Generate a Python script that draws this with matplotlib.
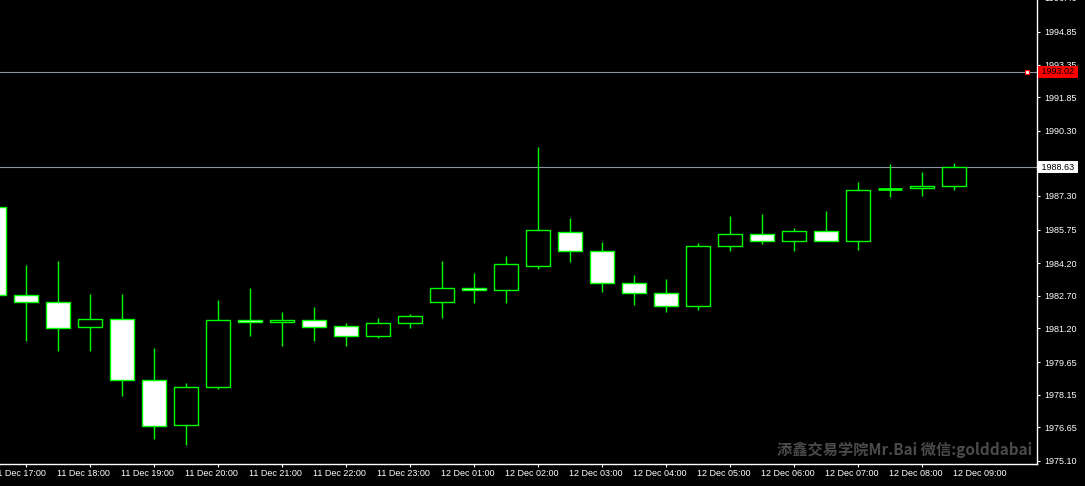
import matplotlib.pyplot as plt
import matplotlib.transforms as mtransforms

# 30-minute XAUUSD candles
opens  = [1986.81, 1982.74, 1982.41, 1981.26, 1981.63, 1978.82, 1976.75, 1978.50,
          1981.58, 1981.49, 1981.58, 1981.31, 1980.85, 1981.45, 1982.41, 1983.06,
          1982.97, 1984.07, 1985.64, 1984.76, 1983.29, 1982.83, 1982.23, 1984.99,
          1985.55, 1985.22, 1985.69, 1985.22, 1987.60, 1987.67, 1987.76]
highs  = [1987.10, 1984.13, 1984.32, 1982.80, 1982.80, 1980.31, 1978.69, 1982.52,
          1983.07, 1981.97, 1982.20, 1981.45, 1981.68, 1981.86, 1984.32, 1983.76,
          1984.55, 1989.57, 1986.30, 1985.19, 1983.67, 1983.49, 1985.15, 1986.39,
          1986.48, 1985.84, 1986.62, 1987.96, 1988.79, 1988.42, 1988.83]
lows   = [1982.60, 1980.64, 1980.14, 1980.14, 1978.11, 1976.10, 1975.84, 1978.42,
          1980.87, 1980.41, 1980.60, 1980.37, 1980.74, 1981.24, 1981.70, 1982.39,
          1982.35, 1983.93, 1984.24, 1982.86, 1982.26, 1981.98, 1982.07, 1984.75,
          1985.11, 1984.75, 1985.22, 1984.79, 1987.23, 1987.28, 1987.56]
closes = [1982.75, 1982.41, 1981.22, 1981.63, 1978.82, 1976.70, 1978.50, 1981.58,
          1981.49, 1981.60, 1981.26, 1980.85, 1981.45, 1981.77, 1983.06, 1982.97,
          1984.16, 1985.73, 1984.76, 1983.29, 1982.83, 1982.23, 1984.99, 1985.55,
          1985.22, 1985.69, 1985.22, 1987.57, 1987.60, 1987.76, 1988.63]

time_labels = ['11 Dec 17:00', '11 Dec 18:00', '11 Dec 19:00', '11 Dec 20:00',
               '11 Dec 21:00', '11 Dec 22:00', '11 Dec 23:00', '12 Dec 01:00',
               '12 Dec 02:00', '12 Dec 03:00', '12 Dec 04:00', '12 Dec 05:00',
               '12 Dec 06:00', '12 Dec 07:00', '12 Dec 08:00', '12 Dec 09:00']
price_ticks = [1994.85, 1993.35, 1991.85, 1990.30, 1988.80, 1987.30, 1985.75,
               1984.20, 1982.70, 1981.20, 1979.65, 1978.15, 1976.65, 1975.10]
top_tick = 1996.40
ask_price = 1993.02
bid_price = 1988.63

GREEN = '#00ff00'
BG = '#000000'
FONT = 'Liberation Sans'

fig = plt.figure(figsize=(10.85, 4.86), dpi=100, facecolor=BG)
ax = fig.add_axes([0, 22 / 486, 1037 / 1085, 464 / 486])
ax.set_facecolor(BG)

x = list(range(-1, len(opens) - 1))

# wicks first, bodies over them
ax.vlines(x, lows, highs, color=GREEN, linewidth=1.0, zorder=2)
for xi, o, c in zip(x, opens, closes):
    fill = 'white' if c < o else 'black'
    lw = 2.0 if abs(c - o) < 0.01 else 1.0
    ax.bar(xi, abs(c - o), bottom=min(o, c), width=0.75, color=fill,
           edgecolor=GREEN, linewidth=lw, zorder=3)

# ask / bid lines
ax.axhline(ask_price, color='#8c96a0', linewidth=0.8, zorder=1)
ax.axhline(bid_price, color='#8c96a0', linewidth=0.8, zorder=1)

for side in ['top', 'left']:
    ax.spines[side].set_visible(False)
for side in ['bottom', 'right']:
    ax.spines[side].set_color('white')
    ax.spines[side].set_linewidth(1.0)

ax.yaxis.tick_right()
ax.set_yticks(price_ticks)
ax.set_yticklabels([f'{v:.2f}' for v in price_ticks])
ax.tick_params(axis='y', colors='white', length=2.2, width=0.8, pad=3,
               labelsize=6.5, labelfontfamily=FONT)

ax.set_xticks(x[1::2])
ax.set_xticklabels([])
ax.tick_params(axis='x', colors='white', length=2.2, width=0.8)

# limits after the ticks, set_xticks would widen them otherwise
ax.set_xlim(-0.82, 31.58)
ax.set_ylim(1974.96, 1996.32)

# time labels start at their tick, the first one is cut by the left edge
xtrans = mtransforms.blended_transform_factory(ax.transData, ax.transAxes)
xlab_trans = xtrans + mtransforms.ScaledTranslation(-1 / 100, -3.7 / 72, fig.dpi_scale_trans)
for xi, lab in zip(x[::2], time_labels):
    ax.text(xi, 0, lab, color='white', fontsize=6.5, family=FONT,
            ha='left', va='top', clip_on=False, transform=xlab_trans)

trans = mtransforms.blended_transform_factory(ax.transAxes, ax.transData)
ax.text(1.0, top_tick, f'{top_tick:.2f}', color='white', fontsize=6.5, family=FONT,
        va='center', ha='left', clip_on=False,
        transform=trans + mtransforms.ScaledTranslation(5.2 / 72, 0, fig.dpi_scale_trans))

# price labels on the axis
ax.text(1.002, ask_price, ' 1993.02 ', transform=trans, color='black', fontsize=6.5,
        family=FONT, va='center', ha='left', clip_on=False, zorder=10,
        bbox=dict(boxstyle='square,pad=0.15', facecolor='#ff0000', edgecolor='none'))
ax.text(1.002, bid_price, ' 1988.63 ', transform=trans, color='black', fontsize=6.5,
        family=FONT, va='center', ha='left', clip_on=False, zorder=10,
        bbox=dict(boxstyle='square,pad=0.15', facecolor='white', edgecolor='none'))
ax.plot([0.99], [ask_price], marker='s', markersize=3.5, markerfacecolor='white',
        markeredgecolor='red', markeredgewidth=0.8, transform=trans, clip_on=False, zorder=10)

ax.text(0.995, 0.03, '添鑫交易学院Mr.Bai 微信:golddabai', transform=ax.transAxes,
        color='#4a4a4a', fontsize=11, fontweight='bold', ha='right', va='center',
        family=['Noto Sans CJK SC', 'DejaVu Sans'], zorder=0)

fig.savefig('out.png', dpi=100, facecolor=BG)
